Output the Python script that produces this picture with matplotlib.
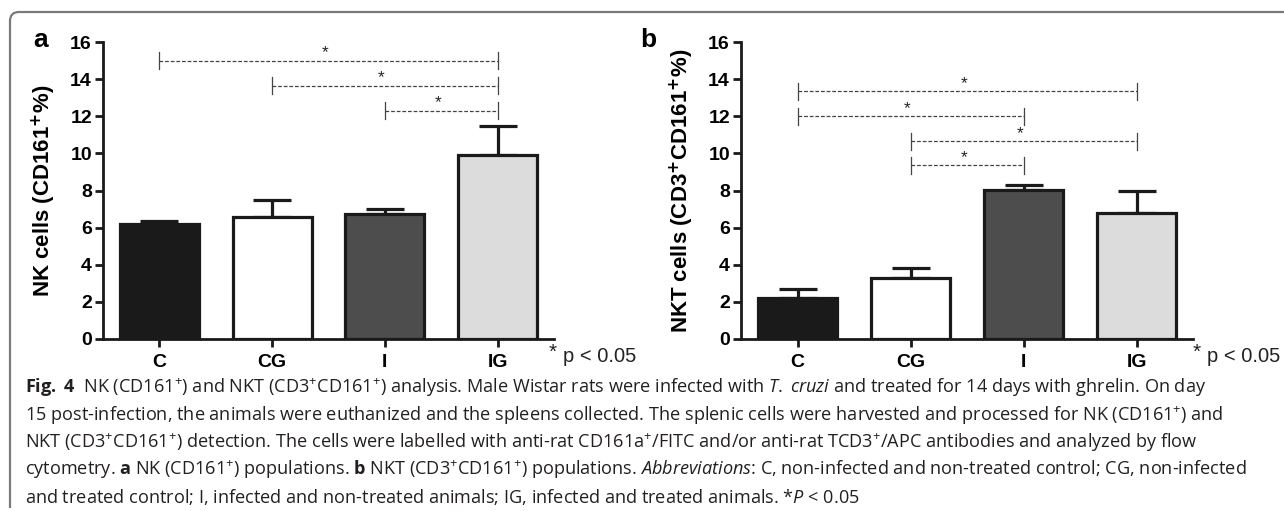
import matplotlib
matplotlib.use("Agg")
import numpy as np
import matplotlib.pyplot as plt
import matplotlib.path as mpath
import matplotlib.patches as mpatches
from matplotlib.transforms import IdentityTransform

# data
groups = ["C", "CG", "I", "IG"]
bar_colors = ["#1a1a1a", "#ffffff", "#4d4d4d", "#dcdcdc"]

nk_mean = [6.2, 6.55, 6.75, 9.9]
nk_sem = [0.15, 0.95, 0.25, 1.55]

nkt_mean = [2.2, 3.3, 8.05, 6.8]
nkt_sem = [0.48, 0.5, 0.25, 1.2]

# significance brackets: (from group, to group, height)
nk_sig = [(0, 3, 15.0), (1, 3, 13.65), (2, 3, 12.3)]
nkt_sig = [(0, 3, 13.35), (0, 2, 12.0), (1, 3, 10.65), (1, 2, 9.35)]

caption_lines = [
    r"$\mathbf{Fig.}$ $\mathbf{4}$  NK (CD161$^{+}$) and NKT (CD3$^{+}$CD161$^{+}$) analysis. Male Wistar rats were infected with $\mathit{T.\;cruzi}$ and treated for 14 days with ghrelin. On day",
    r"15 post-infection, the animals were euthanized and the spleens collected. The splenic cells were harvested and processed for NK (CD161$^{+}$) and",
    r"NKT (CD3$^{+}$CD161$^{+}$) detection. The cells were labelled with anti-rat CD161a$^{+}$/FITC and/or anti-rat TCD3$^{+}$/APC antibodies and analyzed by flow",
    r"cytometry. $\mathbf{a}$ NK (CD161$^{+}$) populations. $\mathbf{b}$ NKT (CD3$^{+}$CD161$^{+}$) populations. $\mathit{Abbreviations}$: C, non-infected and non-treated control; CG, non-infected",
    r"and treated control; I, infected and non-treated animals; IG, infected and treated animals. *$\mathit{P}$ < 0.05",
]
# right ends (px) of caption lines 2-5 in the original, used to size the caption font
caption_right = [1216, 1201, 1283, 853]

plt.rcParams['font.family'] = ['Liberation Sans', 'DejaVu Sans']
plt.rcParams['mathtext.fontset'] = 'custom'
plt.rcParams['mathtext.rm'] = 'Open Sans'
plt.rcParams['mathtext.it'] = 'Open Sans:italic'
plt.rcParams['mathtext.bf'] = 'Open Sans:bold'

W, H = 1284, 511
fig = plt.figure(figsize=(W / 100, H / 100), dpi=100)


def make_panel(rect, means, sems, sig, ylabel, letter, letter_x, star_x):
    ax = fig.add_axes(rect)
    x = np.arange(len(groups))
    ax.bar(x, means, width=0.7, color=bar_colors, edgecolor='#1a1a1a',
           linewidth=2.3, zorder=2)
    ax.errorbar(x, means, yerr=[np.zeros(len(sems)), sems], fmt='none',
                ecolor='#1a1a1a', elinewidth=2.3, capsize=14, capthick=2.3,
                zorder=1)
    ax.set_xlim(-0.5, 3.5)
    ax.set_ylim(0, 16)
    ax.set_yticks(np.arange(0, 17, 2))
    ax.set_xticks(x)
    ax.set_xticklabels(groups)
    for s in ['top', 'right']:
        ax.spines[s].set_visible(False)
    for s in ['left', 'bottom']:
        ax.spines[s].set_linewidth(2)
        ax.spines[s].set_color('#1a1a1a')
    ax.tick_params(axis='both', width=2, length=6, color='#1a1a1a',
                   labelsize=14, pad=2)
    ax.tick_params(axis='x', pad=5)
    for lab in ax.get_xticklabels() + ax.get_yticklabels():
        lab.set_fontweight('bold')
    ax.set_ylabel(ylabel, fontsize=16, fontweight='bold', labelpad=9,
                  math_fontfamily='dejavusans')

    # significance brackets
    for a, b, h in sig:
        ax.plot([a, b], [h, h], color='#444444', lw=0.9,
                dashes=(3.0, 1.5), zorder=3)
        for xe in (a, b):
            ax.plot([xe, xe], [h - 0.45, h + 0.45], color='#444444',
                    lw=0.9, zorder=3)
        ax.text((a + b) / 2 - 0.03, h + 0.02, "*", ha='center', va='bottom',
                fontsize=12.5, color='#222222')

    ax.text(star_x, -0.045, "*", transform=ax.transAxes, ha='center',
            va='center', fontsize=15, color='#222222')
    ax.text(star_x + 0.022, -0.06, "p < 0.05", transform=ax.transAxes,
            ha='left', va='center', fontsize=14.5, color='#222222')
    fig.text(letter_x, 0.922, letter, fontsize=19, fontweight='bold',
             ha='center', va='center')
    return ax


make_panel([103 / W, 0.3366, 451 / W, 0.5812], nk_mean, nk_sem, nk_sig,
           r"NK cells (CD161$^{\mathbf{+}}$%)", "a", 41 / W, 0.998)
make_panel([741 / W, 0.3366, 452 / W, 0.5812], nkt_mean, nkt_sem, nkt_sig,
           r"NKT cells (CD3$^{\mathbf{+}}$CD161$^{\mathbf{+}}$%)", "b", 648 / W, 1.008)

# caption
cap_texts = []
for i, line in enumerate(caption_lines):
    t = fig.text(25 / W, 1 - (388 + 27.2 * i) / H, line, fontsize=10.5,
                 family='Open Sans', color='#231f20', va='center', ha='left')
    cap_texts.append(t)

# fit the caption font size to the width of the original lines
fig.canvas.draw()
renderer = fig.canvas.get_renderer()
widths = [t.get_window_extent(renderer).width for t in cap_texts[1:]]
target = sum(r - 25 for r in caption_right)
scale = target / sum(widths)
for t in cap_texts:
    t.set_fontsize(10.5 * scale)

# rounded frame around the figure (top and left edges)
r = 9
x0, ytop, ybot = 10, H - 12, 3
verts = [(x0, ybot), (x0, ytop - r), (x0, ytop), (x0 + r, ytop), (W + 10, ytop)]
codes = [mpath.Path.MOVETO, mpath.Path.LINETO, mpath.Path.CURVE3,
         mpath.Path.CURVE3, mpath.Path.LINETO]
frame = mpatches.PathPatch(mpath.Path(verts, codes), fill=False,
                           edgecolor='#7a7a7a', lw=1.6,
                           transform=IdentityTransform())
fig.add_artist(frame)

fig.savefig("out.png", dpi=100)
